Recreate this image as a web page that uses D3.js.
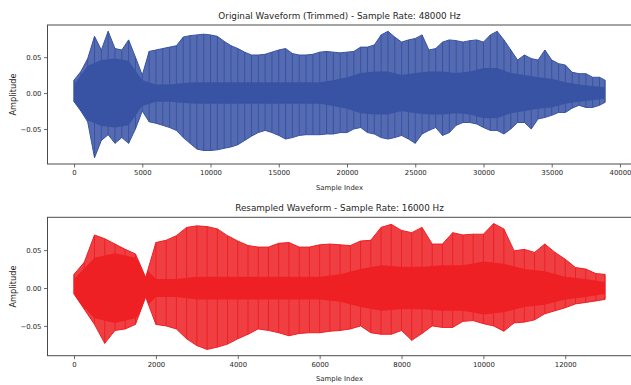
<!DOCTYPE html>
<html><head><meta charset="utf-8">
<script src="https://cdn.jsdelivr.net/npm/d3@7/dist/d3.min.js"></script>
<style>
html,body{margin:0;padding:0;background:#fff;}
svg{display:block;}
text{font-family:"DejaVu Sans",sans-serif;fill:#262626;}
</style></head><body>
<svg id="chart" width="631" height="385"></svg>
<script>
// ---------- data ----------
const origIndex = d3.range(0, 38501, 500).concat([38900]);
const origMax = [0.018,0.030,0.048,0.079,0.060,0.086,0.062,0.060,0.074,0.050,0.025,0.058,0.060,0.062,0.064,0.066,0.078,0.080,0.081,0.082,0.081,0.079,0.072,0.066,0.062,0.057,0.053,
0.053,0.054,0.057,0.060,0.062,0.055,0.053,0.053,0.054,0.057,0.058,0.057,0.056,0.057,0.058,0.064,0.064,0.067,0.081,0.086,0.078,0.071,0.074,0.076,0.081,0.060,
0.062,0.071,0.074,0.073,0.071,0.073,0.074,0.071,0.081,0.086,0.074,0.060,0.046,0.053,0.048,0.046,0.060,0.046,0.041,0.039,0.029,0.027,0.027,0.022,0.022,0.018];
const origMin = [-0.012,-0.025,-0.040,-0.090,-0.066,-0.058,-0.070,-0.062,-0.070,-0.050,-0.025,-0.040,-0.042,-0.045,-0.048,-0.052,-0.062,-0.070,-0.078,-0.080,-0.080,-0.079,-0.077,-0.075,-0.072,-0.066,-0.060,
-0.055,-0.052,-0.055,-0.059,-0.064,-0.062,-0.059,-0.058,-0.058,-0.058,-0.057,-0.057,-0.055,-0.055,-0.050,-0.048,-0.055,-0.057,-0.062,-0.064,-0.062,-0.059,-0.064,-0.070,-0.057,-0.052,
-0.048,-0.059,-0.055,-0.045,-0.041,-0.041,-0.043,-0.048,-0.052,-0.052,-0.057,-0.050,-0.041,-0.041,-0.050,-0.036,-0.034,-0.031,-0.027,-0.027,-0.021,-0.017,-0.020,-0.020,-0.017,-0.013];
const origCoreIndex = d3.range(0, 38001, 1000).concat([38900]);
const origCore = [0.012,0.038,0.046,0.048,0.045,0.018,0.012,0.012,0.014,0.015,0.015,0.015,0.015,0.015,0.015,0.015,0.015,0.015,0.015,0.018,
0.022,0.028,0.030,0.030,0.025,0.028,0.030,0.030,0.028,0.030,0.035,0.035,0.028,0.025,0.022,0.020,0.015,0.012,0.010,0.008];

const resIndex = d3.range(0, 12751, 250).concat([12970]);
const resMax = [0.018,0.034,0.070,0.065,0.058,0.051,0.045,0.014,0.060,0.063,0.069,0.080,0.082,0.081,0.078,0.069,0.062,0.056,0.054,0.054,
0.059,0.060,0.054,0.054,0.057,0.058,0.057,0.056,0.062,0.063,0.080,0.084,0.076,0.073,0.080,0.058,0.058,0.073,0.070,0.071,
0.071,0.085,0.078,0.049,0.051,0.047,0.058,0.047,0.038,0.027,0.025,0.019,0.018];
const resMin = [-0.008,-0.028,-0.048,-0.073,-0.056,-0.054,-0.048,-0.012,-0.048,-0.050,-0.054,-0.067,-0.076,-0.081,-0.078,-0.074,-0.067,-0.061,-0.054,-0.056,
-0.059,-0.063,-0.060,-0.059,-0.059,-0.057,-0.056,-0.054,-0.050,-0.059,-0.061,-0.061,-0.056,-0.069,-0.060,-0.050,-0.052,-0.052,-0.044,-0.043,
-0.047,-0.050,-0.057,-0.046,-0.045,-0.042,-0.034,-0.030,-0.026,-0.021,-0.019,-0.017,-0.015];
const resCoreIndex = d3.range(0, 12501, 500).concat([12970]);
const resCore = [0.012,0.040,0.046,0.040,0.012,0.012,0.015,0.015,0.015,0.015,0.015,0.015,0.015,0.018,0.025,0.030,0.028,0.028,0.030,0.030,
0.035,0.032,0.025,0.022,0.015,0.012,0.008];

const origXTicks = [0,5000,10000,15000,20000,25000,30000,35000,40000];
const resXTicks = [0,2000,4000,6000,8000,10000,12000];
const yTicks = [-0.05, 0, 0.05];
const yTickLabels = ["\u22120.05", "0.00", "0.05"];
const titles = ["Original Waveform (Trimmed) - Sample Rate: 48000 Hz", "Resampled Waveform - Sample Rate: 16000 Hz"];
const xLabel = "Sample Index", yLabel = "Amplitude";

// ---------- drawing ----------
const svg = d3.select("#chart");
const panels = [
  {idx: origIndex, max: origMax, min: origMin, cIdx: origCoreIndex, core: origCore, ticks: origXTicks,
   color: "#3853a4", top: 25, bottom: 164, title: titles[0]},
  {idx: resIndex, max: resMax, min: resMin, cIdx: resCoreIndex, core: resCore, ticks: resXTicks,
   color: "#ee2024", top: 217.3, bottom: 355.7, title: titles[1]}
];
const L = 47.5, R = 631.5;

panels.forEach((p, k) => {
  const xmin = d3.min(p.idx), xmax = d3.max(p.idx);
  const xs = xmax - xmin;
  const x = d3.scaleLinear().domain([xmin - 0.05 * xs, xmax + 0.05 * xs]).range([L, R]);
  const ymin = d3.min(p.min), ymax = d3.max(p.max), ys = ymax - ymin;
  const y = d3.scaleLinear().domain([ymin - 0.05 * ys, ymax + 0.05 * ys]).range([p.bottom, p.top]);

  const g = svg.append("g");
  const clipId = "clip" + k, envId = "env" + k;
  svg.append("clipPath").attr("id", clipId).append("rect")
    .attr("x", L).attr("y", p.top).attr("width", R - L).attr("height", p.bottom - p.top);

  const outer = d3.area().x((d, i) => x(p.idx[i])).y0((d, i) => y(p.min[i])).y1((d, i) => y(p.max[i]));
  const outerPath = outer(p.idx);
  svg.append("clipPath").attr("id", envId).append("path").attr("d", outerPath);

  const plot = g.append("g").attr("clip-path", `url(#${clipId})`);
  plot.append("path").attr("d", outerPath)
    .attr("fill", p.color).attr("fill-opacity", 0.86)
    .attr("stroke", p.color).attr("stroke-width", 1).attr("stroke-linejoin", "round");
  plot.append("g").selectAll("line").data(p.idx).join("line")
    .attr("x1", d => x(d)).attr("x2", d => x(d))
    .attr("y1", (d, i) => y(p.min[i])).attr("y2", (d, i) => y(p.max[i]))
    .attr("stroke", p.color).attr("stroke-width", 1);
  const core = d3.area().x((d, i) => x(p.cIdx[i])).y0((d, i) => y(-p.core[i])).y1((d, i) => y(p.core[i]));
  plot.append("g").attr("clip-path", `url(#${envId})`).append("path")
    .attr("d", core(p.cIdx)).attr("fill", p.color);

  // axes
  const ax = d3.axisBottom(x).tickValues(p.ticks).tickFormat(d3.format("d")).tickSize(3.5).tickPadding(2.5);
  const gx = g.append("g").attr("transform", `translate(0,${p.bottom})`).call(ax);
  const ay = d3.axisLeft(y).tickValues(yTicks).tickFormat((d, i) => yTickLabels[i]).tickSize(3.5).tickPadding(2.5);
  const gy = g.append("g").attr("transform", `translate(${L},0)`).call(ay);
  [gx, gy].forEach(a => {
    a.select(".domain").remove();
    a.selectAll(".tick line").attr("stroke", "#444").attr("stroke-width", 0.8);
    a.selectAll(".tick text").style("font-family", "DejaVu Sans").style("font-size", "6.9px").attr("fill", "#262626");
  });

  // spines
  g.append("rect").attr("x", L).attr("y", p.top).attr("width", R - L).attr("height", p.bottom - p.top)
    .attr("fill", "none").attr("stroke", "#4a4a4a").attr("stroke-width", 1);

  // texts
  g.append("text").attr("x", (L + R) / 2).attr("y", p.top - 6.5).attr("text-anchor", "middle")
    .style("font-size", "8.8px").text(p.title);
  g.append("text").attr("x", (L + R) / 2).attr("y", p.bottom + 25.5).attr("text-anchor", "middle")
    .style("font-size", "6.9px").text(xLabel);
  const yc = (p.top + p.bottom) / 2;
  g.append("text").attr("transform", `translate(15.5,${yc}) rotate(-90)`).attr("text-anchor", "middle")
    .style("font-size", "8.2px").text(yLabel);
});
</script>
</body></html>
